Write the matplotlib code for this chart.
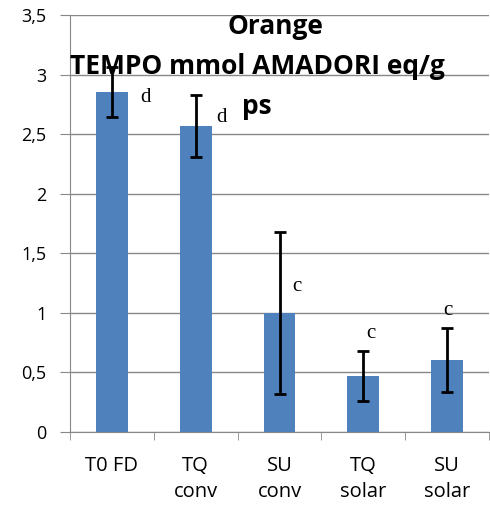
import matplotlib
matplotlib.use("Agg")
import matplotlib.pyplot as plt
import numpy as np

# Amadori products (TEMPO), orange samples
categories = ["T0 FD", "TQ\nconv", "SU\nconv", "TQ\nsolar", "SU\nsolar"]
values = [2.85, 2.57, 1.00, 0.47, 0.605]
errors = [0.21, 0.26, 0.68, 0.21, 0.27]
letters = ["d", "d", "c", "c", "c"]
letter_x = [0.40, 1.31, 2.21, 3.09, 4.01]
letter_y = [2.81, 2.64, 1.22, 0.83, 1.02]
title_lines = ["Orange", "TEMPO mmol AMADORI eq/g", "ps"]

BAR_COLOR = "#4F81BD"
GRID_COLOR = "#888888"

fig = plt.figure(figsize=(4.9, 5.14), dpi=100)
ax = fig.add_axes([70 / 490, 82 / 514, 419 / 490, 417 / 514])

x = np.arange(len(categories))
ax.bar(x, values, width=0.38, color=BAR_COLOR, zorder=2)
ax.errorbar(x, values, yerr=errors, fmt="none", ecolor="black",
            elinewidth=2, capsize=4, capthick=2, zorder=3)

for lx, ly, t in zip(letter_x, letter_y, letters):
    ax.text(lx, ly, t, fontsize=15, family="Liberation Serif",
            ha="center", va="center", zorder=4)

ax.set_xlim(-0.5, len(categories) - 0.5)
ax.set_ylim(0, 3.5)
yt = np.arange(0, 3.51, 0.5)
ax.set_yticks(yt)
ax.set_yticklabels([f"{v:g}".replace(".", ",") for v in yt],
                   fontsize=13, family="Open Sans")
ax.set_xticks(x)
ax.set_xticklabels(categories, fontsize=14.5, family="Open Sans",
                   linespacing=1.45)
ax.set_xticks(np.arange(-0.5, len(categories)), minor=True)
ax.tick_params(axis="x", which="major", length=0, pad=17)
ax.tick_params(axis="x", which="minor", length=6, color=GRID_COLOR)
ax.tick_params(axis="y", length=7, color=GRID_COLOR, pad=10)

ax.yaxis.grid(True, color=GRID_COLOR, linewidth=1)
ax.set_axisbelow(True)
for side in ["top", "right"]:
    ax.spines[side].set_visible(False)
for side in ["left", "bottom"]:
    ax.spines[side].set_color(GRID_COLOR)

# Title is placed over the plot area, lines at fixed heights
title_pos = [(275, 27), (257, 67), (257, 107)]
for (px, py), line in zip(title_pos, title_lines):
    fig.text(px / 490, 1 - py / 514, line, fontsize=19, fontweight="bold",
             family="Open Sans", ha="center", va="center", zorder=5)

fig.savefig("out.png", dpi=100)
